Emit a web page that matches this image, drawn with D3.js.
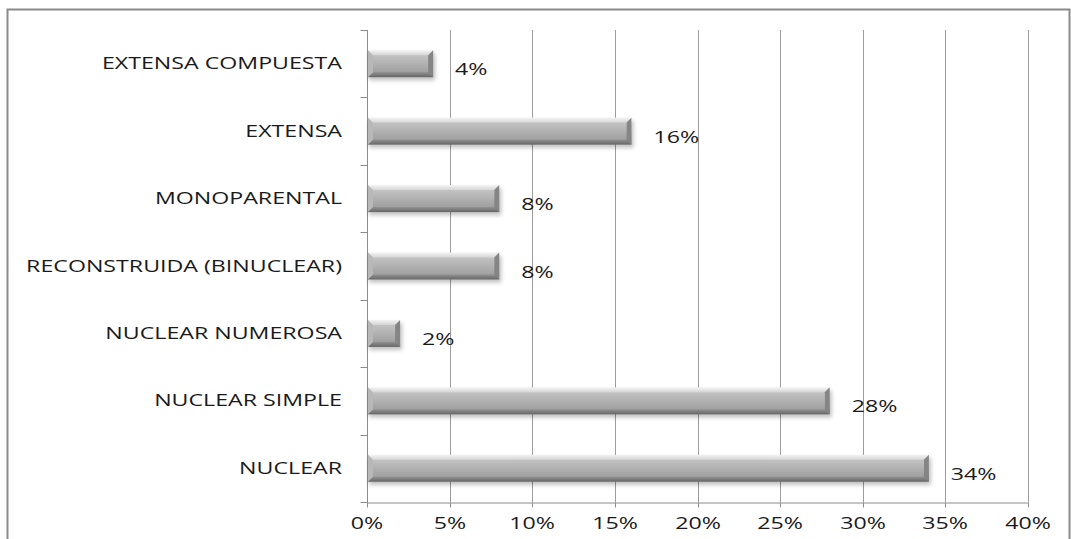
<!DOCTYPE html>
<html>
<head>
<meta charset="utf-8">
<script src="https://cdn.jsdelivr.net/npm/d3@7"></script>
<style>
  html, body { margin: 0; padding: 0; background: #fff; }
  svg { display: block; }
  text { font-family: "Open Sans", "Noto Sans", sans-serif; fill: #1a1a1a; }
</style>
</head>
<body>
<svg id="chart" width="1071" height="539"></svg>
<script>
// Family types and their share of households
const categories = [
  "EXTENSA COMPUESTA",
  "EXTENSA",
  "MONOPARENTAL",
  "RECONSTRUIDA (BINUCLEAR)",
  "NUCLEAR NUMEROSA",
  "NUCLEAR SIMPLE",
  "NUCLEAR"
];
const values = [0.04, 0.16, 0.08, 0.08, 0.02, 0.28, 0.34];
const tickValues = [0, 0.05, 0.10, 0.15, 0.20, 0.25, 0.30, 0.35, 0.40];

const svg = d3.select("#chart");
const plot = { left: 367, right: 1028, top: 30, bottom: 502 };
const stretch = 1.45; // wide lettering

const x = d3.scaleLinear().domain([0, 0.4]).range([plot.left, plot.right]);
const y = d3.scaleBand().domain(categories).range([plot.top, plot.bottom])
  .paddingInner(0.6).paddingOuter(0.3);

const fmt = d3.format(".0%");

// Outer frame
svg.append("rect")
  .attr("x", 7.5).attr("y", 9.5)
  .attr("width", 1062).attr("height", 540)
  .attr("fill", "none").attr("stroke", "#8a8a8a").attr("stroke-width", 2);

// Gradients and shadow for the bevelled bars
const defs = svg.append("defs");
const outer = defs.append("linearGradient").attr("id", "barOuter")
  .attr("x1", 0).attr("y1", 0).attr("x2", 0).attr("y2", 1);
outer.append("stop").attr("offset", "0%").attr("stop-color", "#f4f4f4");
outer.append("stop").attr("offset", "25%").attr("stop-color", "#cacaca");
outer.append("stop").attr("offset", "80%").attr("stop-color", "#959595");
outer.append("stop").attr("offset", "100%").attr("stop-color", "#666666");

const inner = defs.append("linearGradient").attr("id", "barInner")
  .attr("x1", 0).attr("y1", 0).attr("x2", 0).attr("y2", 1);
inner.append("stop").attr("offset", "0%").attr("stop-color", "#c2c2c2");
inner.append("stop").attr("offset", "100%").attr("stop-color", "#a0a0a0");

const shadow = defs.append("filter").attr("id", "barShadow")
  .attr("x", "-10%").attr("y", "-50%").attr("width", "130%").attr("height", "200%");
shadow.append("feGaussianBlur").attr("stdDeviation", 2);

// Vertical gridlines
svg.append("g")
  .selectAll("line")
  .data(tickValues.slice(1))
  .join("line")
  .attr("x1", d => Math.round(x(d)) + 0.5)
  .attr("x2", d => Math.round(x(d)) + 0.5)
  .attr("y1", plot.top)
  .attr("y2", plot.bottom)
  .attr("stroke", "#9c9c9c")
  .attr("stroke-width", 1);

// Bottom axis
const xAxis = svg.append("g")
  .attr("transform", `translate(0,${plot.bottom + 0.5})`)
  .call(d3.axisBottom(x).tickValues(tickValues).tickFormat(fmt).tickSizeInner(5).tickSizeOuter(0).tickPadding(10));
xAxis.select(".domain").attr("stroke", "#8c8c8c");
xAxis.selectAll(".tick line").attr("stroke", "#8c8c8c")
  .attr("transform", "translate(0.5,0)");
xAxis.selectAll(".tick text")
  .attr("font-size", 16).attr("fill", "#1a1a1a")
  .attr("transform", `scale(${stretch},1)`)
  .style("font-family", "'Open Sans', sans-serif");
xAxis.selectAll(".tick").attr("transform", d => `translate(${Math.round(x(d))},0)`);

// Left axis with tick marks between categories
const yAxisX = Math.round(plot.left) + 0.5;
svg.append("line")
  .attr("x1", yAxisX).attr("x2", yAxisX)
  .attr("y1", plot.top).attr("y2", plot.bottom + 5)
  .attr("stroke", "#8c8c8c");
const bounds = d3.range(categories.length + 1).map(i => plot.top + i * y.step());
svg.append("g").selectAll("line")
  .data(bounds)
  .join("line")
  .attr("x1", yAxisX - 7).attr("x2", yAxisX)
  .attr("y1", d => Math.round(d) + 0.5).attr("y2", d => Math.round(d) + 0.5)
  .attr("stroke", "#8c8c8c");

// Category labels
svg.append("g").selectAll("text")
  .data(categories)
  .join("text")
  .attr("transform", d => `translate(${plot.left - 25},${y(d) + y.bandwidth() / 2}) scale(${stretch},1)`)
  .attr("dy", "0.35em")
  .attr("text-anchor", "end")
  .attr("font-size", 16)
  .text(d => d);

// Bars
const bevel = 5;
const rows = categories.map((c, i) => ({ c, v: values[i] }));
const bars = svg.append("g").selectAll("g")
  .data(rows)
  .join("g");

bars.append("rect")
  .attr("x", plot.left + 2)
  .attr("y", d => y(d.c) + 3)
  .attr("width", d => x(d.v) - plot.left)
  .attr("height", y.bandwidth())
  .attr("fill", "#000").attr("opacity", 0.25)
  .attr("filter", "url(#barShadow)");

bars.append("rect")
  .attr("x", plot.left + 1)
  .attr("y", d => y(d.c))
  .attr("width", d => x(d.v) - plot.left - 1)
  .attr("height", y.bandwidth())
  .attr("fill", "url(#barOuter)");

// Right bevel face, darker
bars.append("polygon")
  .attr("points", d => {
    const x1 = x(d.v), y0 = y(d.c), y1 = y0 + y.bandwidth();
    return [[x1, y0], [x1, y1], [x1 - bevel, y1 - bevel], [x1 - bevel, y0 + bevel]].join(" ");
  })
  .attr("fill", "#858585");

// Left bevel face, lighter
bars.append("polygon")
  .attr("points", d => {
    const x0 = plot.left + 1, y0 = y(d.c), y1 = y0 + y.bandwidth();
    return [[x0, y0], [x0 + bevel, y0 + bevel], [x0 + bevel, y1 - bevel], [x0, y1]].join(" ");
  })
  .attr("fill", "#b8b8b8");

bars.append("rect")
  .attr("x", plot.left + 1 + bevel)
  .attr("y", d => y(d.c) + bevel)
  .attr("width", d => Math.max(0, x(d.v) - plot.left - 1 - 2 * bevel))
  .attr("height", y.bandwidth() - 2 * bevel)
  .attr("fill", "url(#barInner)");

// Value labels
svg.append("g").selectAll("text")
  .data(rows)
  .join("text")
  .attr("transform", d => `translate(${x(d.v) + 22},${y(d.c) + y.bandwidth() / 2 + 6}) scale(${stretch},1)`)
  .attr("dy", "0.35em")
  .attr("font-size", 16)
  .text(d => fmt(d.v));
</script>
</body>
</html>
